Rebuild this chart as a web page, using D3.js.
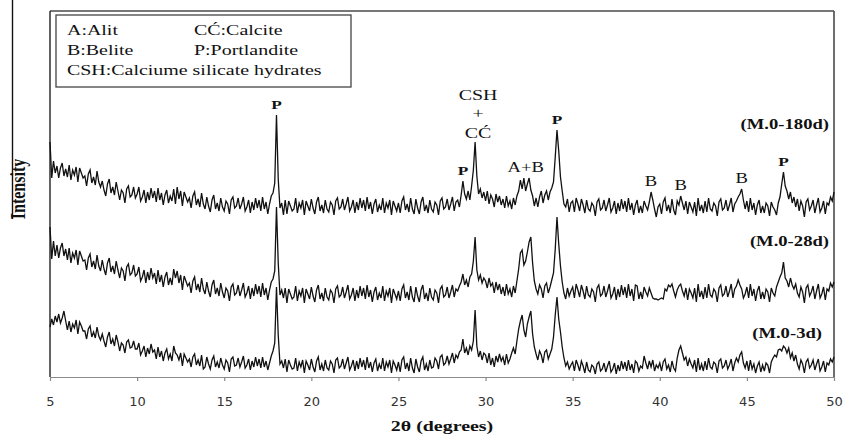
<!DOCTYPE html>
<html>
<head>
<meta charset="utf-8">
<script src="https://cdn.jsdelivr.net/npm/d3@7"></script>
<style>
  body { margin: 0; background: #fff; }
  svg { display: block; }
</style>
</head>
<body>
<div id="chart"></div>
<script>
// XRD patterns, 2θ from 5 to 50 in 0.1 degree steps, one row per degree
const START_ANGLE = 5;
const STEP_ANGLE = 0.1;
const angleTicks = [5, 10, 15, 20, 25, 30, 35, 40, 45, 50];

const m180d = [
  235, 199, 216, 204, 211, 199, 209, 214, 201, 208,
  200, 212, 197, 207, 202, 210, 195, 209, 204, 199,
  201, 191, 203, 207, 194, 200, 192, 206, 195, 190,
  196, 187, 181, 193, 198, 184, 190, 182, 195, 186,
  177, 187, 184, 174, 188, 191, 180, 182, 190, 179,
  183, 190, 176, 180, 187, 174, 185, 177, 189, 179,
  186, 175, 189, 177, 184, 172, 182, 187, 174, 181,
  176, 188, 173, 190, 178, 186, 171, 185, 180, 175,
  179, 169, 181, 185, 172, 178, 170, 184, 173, 168,
  180, 171, 165, 177, 182, 168, 174, 166, 179, 170,
  166, 176, 173, 163, 177, 180, 169, 171, 179, 168,
  173, 180, 166, 170, 177, 164, 175, 167, 179, 169,
  177, 166, 180, 168, 175, 163, 173, 181, 184, 194,
  262, 198, 169, 174, 162, 177, 163, 176, 171, 166,
  168, 179, 164, 174, 169, 177, 162, 176, 171, 166,
  178, 169, 163, 175, 180, 166, 172, 164, 177, 168,
  165, 175, 172, 162, 176, 179, 168, 170, 178, 167,
  173, 180, 166, 170, 177, 164, 175, 167, 179, 169,
  177, 166, 180, 168, 175, 163, 173, 178, 165, 172,
  167, 179, 164, 174, 169, 177, 162, 176, 171, 166,
  174, 164, 176, 180, 167, 173, 165, 179, 168, 163,
  178, 169, 163, 175, 180, 166, 172, 164, 177, 168,
  165, 175, 172, 162, 176, 179, 168, 170, 178, 167,
  173, 180, 166, 175, 177, 170, 182, 196, 183, 178,
  186, 177, 191, 207, 235, 201, 183, 188, 179, 185,
  176, 186, 173, 182, 178, 170, 183, 175, 181, 172,
  178, 169, 181, 171, 176, 168, 179, 172, 181, 186,
  197, 188, 199, 186, 193, 199, 187, 181, 171, 179,
  170, 180, 186, 174, 182, 186, 177, 185, 189, 195,
  220, 247, 226, 200, 186, 173, 170, 178, 165, 174,
  176, 165, 179, 173, 166, 178, 172, 164, 177, 168,
  166, 174, 171, 161, 175, 178, 167, 169, 177, 166,
  172, 179, 165, 169, 176, 163, 174, 166, 178, 168,
  176, 165, 179, 167, 174, 162, 172, 177, 164, 171,
  164, 176, 171, 167, 175, 185, 177, 168, 160, 170,
  173, 163, 175, 179, 166, 172, 164, 178, 167, 162,
  176, 172, 181, 174, 167, 176, 163, 175, 170, 165,
  175, 161, 179, 166, 172, 164, 176, 165, 179, 168,
  166, 174, 171, 161, 175, 178, 167, 169, 177, 166,
  172, 179, 165, 173, 176, 180, 183, 188, 177, 168,
  176, 165, 179, 167, 174, 162, 172, 177, 164, 171,
  164, 174, 171, 161, 175, 170, 167, 162, 174, 180,
  193, 205, 191, 186, 178, 185, 174, 180, 170, 178,
  166, 176, 171, 160, 175, 178, 167, 171, 177, 164,
  172, 179, 165, 169, 176, 163, 174, 172, 180, 176,
  185
];

const m28d = [
  150, 118, 136, 121, 132, 119, 129, 134, 121, 128,
  117, 129, 114, 124, 119, 127, 112, 126, 121, 116,
  117, 107, 119, 123, 110, 116, 108, 122, 111, 106,
  117, 108, 102, 114, 119, 105, 111, 103, 116, 107,
  99, 109, 106, 96, 110, 113, 102, 104, 112, 101,
  103, 110, 96, 100, 107, 94, 105, 97, 109, 99,
  104, 93, 107, 95, 102, 90, 100, 105, 92, 99,
  92, 108, 99, 106, 94, 102, 87, 101, 96, 91,
  94, 84, 96, 100, 87, 93, 85, 99, 88, 83,
  95, 86, 80, 92, 97, 83, 89, 81, 94, 85,
  79, 89, 86, 76, 90, 93, 82, 84, 92, 81,
  87, 94, 80, 84, 91, 78, 89, 81, 93, 83,
  91, 80, 94, 82, 89, 77, 87, 95, 98, 106,
  170, 114, 82, 87, 79, 89, 74, 88, 83, 78,
  80, 91, 76, 86, 81, 89, 74, 88, 83, 78,
  90, 81, 75, 87, 92, 78, 84, 76, 89, 80,
  77, 87, 84, 74, 88, 91, 80, 82, 90, 79,
  85, 92, 78, 82, 89, 76, 87, 79, 91, 81,
  89, 78, 92, 80, 87, 75, 85, 90, 77, 84,
  79, 91, 76, 86, 81, 89, 74, 88, 83, 78,
  86, 76, 88, 92, 79, 85, 77, 91, 80, 75,
  90, 81, 75, 87, 92, 78, 84, 76, 89, 80,
  77, 87, 84, 74, 88, 91, 80, 82, 90, 79,
  85, 92, 80, 88, 86, 91, 95, 103, 92, 97,
  90, 100, 103, 116, 140, 107, 97, 102, 94, 99,
  96, 89, 99, 91, 94, 84, 95, 87, 93, 83,
  90, 81, 93, 83, 88, 80, 91, 84, 96, 108,
  124, 127, 112, 116, 125, 135, 140, 114, 96, 88,
  83, 92, 88, 79, 91, 94, 84, 90, 97, 104,
  128, 160, 133, 111, 95, 84, 78, 89, 81, 86,
  90, 79, 93, 87, 80, 92, 86, 78, 91, 82,
  80, 88, 85, 75, 89, 92, 81, 83, 91, 80,
  86, 93, 79, 83, 90, 77, 88, 80, 92, 82,
  90, 79, 93, 81, 88, 76, 92, 91, 78, 85,
  78, 90, 85, 81, 89, 84, 79, 78, 78, 77,
  78, 79, 78, 88, 86, 92, 90, 93, 86, 80,
  87, 91, 93, 86, 81, 89, 77, 88, 84, 79,
  89, 75, 93, 80, 86, 78, 90, 79, 93, 82,
  80, 88, 85, 75, 89, 92, 81, 83, 91, 80,
  86, 93, 79, 88, 91, 97, 92, 88, 79, 83,
  90, 79, 93, 81, 88, 76, 86, 91, 78, 85,
  78, 88, 85, 75, 89, 84, 81, 90, 95, 100,
  104, 115, 99, 96, 90, 99, 92, 88, 93, 84,
  80, 90, 85, 74, 89, 92, 81, 85, 91, 78,
  86, 93, 79, 83, 90, 77, 88, 86, 94, 90,
  95
];

const m3d = [
  50, 58, 52, 61, 55, 63, 54, 59, 66, 56,
  47, 56, 45, 53, 49, 57, 43, 55, 51, 46,
  46, 38, 48, 51, 40, 45, 39, 50, 41, 37,
  43, 36, 30, 40, 45, 33, 38, 31, 42, 35,
  26, 34, 32, 24, 35, 37, 29, 30, 36, 28,
  28, 34, 22, 26, 31, 20, 29, 23, 33, 25,
  27, 18, 30, 20, 26, 16, 24, 28, 18, 23,
  16, 31, 24, 22, 17, 24, 11, 23, 19, 15,
  18, 10, 20, 23, 12, 17, 11, 22, 8, 10,
  20, 13, 8, 17, 21, 10, 15, 9, 19, 12,
  8, 17, 14, 5, 18, 20, 11, 12, 19, 10,
  15, 21, 9, 12, 18, 7, 16, 10, 20, 11,
  18, 9, 20, 10, 16, 7, 14, 21, 26, 34,
  90, 42, 13, 16, 9, 18, 5, 17, 12, 8,
  9, 19, 6, 15, 10, 17, 4, 16, 12, 7,
  18, 10, 5, 16, 20, 7, 13, 6, 17, 9,
  7, 16, 13, 4, 17, 19, 9, 11, 18, 8,
  14, 20, 7, 11, 17, 6, 16, 8, 19, 10,
  17, 7, 20, 9, 15, 5, 14, 18, 6, 13,
  8, 19, 6, 15, 10, 17, 4, 16, 12, 7,
  15, 5, 17, 20, 8, 14, 6, 19, 9, 4,
  18, 10, 5, 16, 20, 7, 13, 6, 17, 9,
  10, 19, 16, 8, 20, 22, 12, 14, 21, 13,
  18, 24, 14, 22, 19, 25, 27, 38, 24, 29,
  22, 31, 27, 36, 67, 31, 20, 26, 17, 24,
  22, 14, 24, 12, 19, 10, 21, 15, 23, 16,
  20, 12, 23, 14, 18, 24, 29, 23, 36, 48,
  56, 62, 47, 40, 53, 60, 66, 43, 30, 23,
  17, 26, 22, 14, 25, 27, 18, 23, 28, 40,
  62, 80, 58, 45, 30, 19, 11, 15, 8, 12,
  15, 6, 17, 12, 6, 16, 11, 4, 15, 7,
  5, 12, 10, 3, 13, 15, 6, 8, 14, 5,
  11, 16, 5, 8, 14, 3, 12, 6, 16, 8,
  15, 6, 17, 7, 13, 4, 16, 14, 6, 11,
  9, 21, 14, 8, 16, 10, 17, 6, 12, 9,
  14, 6, 15, 18, 8, 12, 5, 16, 9, 6,
  19, 27, 31, 24, 17, 20, 11, 18, 13, 9,
  17, 5, 19, 7, 13, 6, 16, 7, 19, 10,
  8, 15, 13, 4, 16, 18, 9, 11, 17, 8,
  12, 18, 6, 14, 19, 15, 22, 25, 14, 9,
  16, 6, 17, 8, 13, 4, 11, 15, 5, 12,
  6, 14, 12, 4, 15, 19, 22, 20, 27, 28,
  26, 31, 29, 24, 29, 19, 24, 16, 22, 13,
  8, 17, 13, 4, 15, 18, 9, 12, 17, 7,
  13, 18, 6, 10, 16, 5, 14, 12, 18, 15,
  20
];

const sampleNames = ["(M.0-180d)", "(M.0-28d)", "(M.0-3d)"];

// phase marks on the 180 day pattern
const peakAngles = [18.0, 28.7, 32.3, 34.1, 39.5, 41.2, 44.7, 47.1];
const peakNames = ["P", "P", "A+B", "P", "B", "B", "B", "P"];
const calciteAngle = 29.4;
const calciteLines = ["CSH", "+", "C\u0106"];

const legendRows = [
  ["A:Alit", "C\u0106:Calcite"],
  ["B:Belite", "P:Portlandite"],
  ["CSH:Calciume silicate hydrates"],
];

const WIDTH = 843;
const HEIGHT = 438;
const MARGIN = { top: 11, right: 9, bottom: 61, left: 50 };
const SX = 1.33; // text in this figure is drawn wide
const SERIF = "'Liberation Serif', 'Times New Roman', serif";

const svg = d3
  .select("#chart")
  .append("svg")
  .attr("width", WIDTH)
  .attr("height", HEIGHT);

const x = d3
  .scaleLinear()
  .domain([5, 50])
  .range([MARGIN.left, WIDTH - MARGIN.right]);

const y = d3
  .scaleLinear()
  .domain([0, 366])
  .range([HEIGHT - MARGIN.bottom, MARGIN.top]);

const angleAt = (i) => START_ANGLE + i * STEP_ANGLE;

function label(g, px, py, str, opts = {}) {
  return g
    .append("text")
    .attr("transform", `translate(${px},${py}) scale(${opts.sx || SX},1)${opts.rotate ? " rotate(" + opts.rotate + ")" : ""}`)
    .attr("text-anchor", opts.anchor || "middle")
    .attr("font-family", SERIF)
    .attr("font-size", opts.size || 14)
    .attr("font-weight", opts.bold ? 700 : 400)
    .attr("fill", "#111")
    .text(str);
}

// frame
svg
  .append("line")
  .attr("x1", MARGIN.left)
  .attr("x2", WIDTH - MARGIN.right)
  .attr("y1", MARGIN.top)
  .attr("y2", MARGIN.top)
  .attr("stroke", "#4a4a4a")
  .attr("stroke-width", 1.6);

svg
  .append("line")
  .attr("x1", WIDTH - MARGIN.right)
  .attr("x2", WIDTH - MARGIN.right)
  .attr("y1", MARGIN.top)
  .attr("y2", HEIGHT - MARGIN.bottom)
  .attr("stroke", "#4a4a4a")
  .attr("stroke-width", 1.6);

svg
  .append("line")
  .attr("x1", MARGIN.left)
  .attr("x2", MARGIN.left)
  .attr("y1", MARGIN.top)
  .attr("y2", HEIGHT - MARGIN.bottom)
  .attr("stroke", "#222")
  .attr("stroke-width", 1.4);

// x axis
const xAxis = svg
  .append("g")
  .attr("transform", `translate(0,${HEIGHT - MARGIN.bottom})`)
  .call(d3.axisBottom(x).tickValues(angleTicks).tickSize(4).tickSizeOuter(0).tickPadding(16).tickFormat(d3.format("d")));

xAxis.select(".domain").attr("stroke", "#8a8a8a").attr("stroke-width", 1.2);
xAxis.selectAll(".tick line").attr("stroke", "#8a8a8a").attr("stroke-width", 1.2);
xAxis
  .selectAll(".tick text")
  .attr("font-family", "'DejaVu Sans', Verdana, sans-serif")
  .attr("font-size", 13)
  .attr("fill", "#333");

label(svg, (x(5) + x(50)) / 2, 431, "2\u03b8 (degrees)", { bold: true, size: 15 });

// y axis title with its rule
label(svg, 25, 189, "Intensity", { bold: true, size: 16, rotate: -90 });
svg
  .append("line")
  .attr("x1", 12.5)
  .attr("x2", 12.5)
  .attr("y1", 0)
  .attr("y2", 219)
  .attr("stroke", "#111")
  .attr("stroke-width", 1.4);

// patterns
const line = d3
  .line()
  .x((d, i) => x(angleAt(i)))
  .y((d) => y(d));

const patterns = [m180d, m28d, m3d];

svg
  .append("g")
  .selectAll("path")
  .data(patterns)
  .join("path")
  .attr("d", line)
  .attr("fill", "none")
  .attr("stroke", "#111")
  .attr("stroke-width", 1.3);

// sample names at the right, above each pattern's tail
const tailLevel = (arr) => d3.median(arr.slice(-60));
const nameX = [829, 829, 822];
const nameLift = [74, 43, 24];
const names = svg.append("g");
sampleNames.forEach((name, k) => {
  label(names, nameX[k], y(tailLevel(patterns[k])) - nameLift[k], name, { bold: true, size: 14, anchor: "end" });
});

// phase marks above the peaks of the top pattern
const peakTop = (angle) => {
  const i = Math.round((angle - START_ANGLE) / STEP_ANGLE);
  return d3.max(m180d.slice(i - 3, i + 4));
};

const marks = svg.append("g");
peakAngles.forEach((angle, k) => {
  const bold = peakNames[k] === "P";
  label(marks, x(angle), y(peakTop(angle)) - 6, peakNames[k], { bold, size: bold ? 13 : 14 });
});

const calciteTop = y(peakTop(calciteAngle));
[-42, -24, -4].forEach((dy, k) => {
  label(marks, x(calciteAngle) + 3, calciteTop + dy, calciteLines[k], { size: 15 });
});

// legend box
const legend = svg.append("g");
legend
  .append("rect")
  .attr("x", 56)
  .attr("y", 15)
  .attr("width", 295)
  .attr("height", 72)
  .attr("fill", "#fff")
  .attr("stroke", "#444")
  .attr("stroke-width", 1.3);

const colX = [67, 194];
legendRows.forEach((row, r) => {
  row.forEach((item, c) => {
    label(legend, colX[c], 35 + r * 20, item, { size: 15, anchor: "start" });
  });
});
</script>
</body>
</html>
